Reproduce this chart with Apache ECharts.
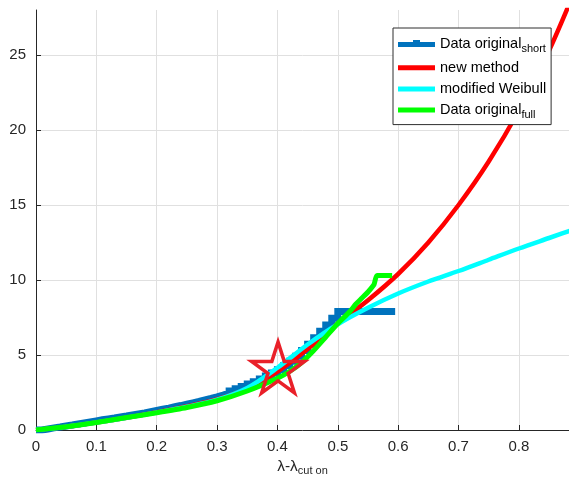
<!DOCTYPE html>
<html>
<head>
<meta charset="utf-8">
<script src="https://cdn.jsdelivr.net/npm/echarts@6/dist/echarts.min.js"></script>
<style>
html,body{margin:0;padding:0;background:#fff;}
#chart{width:569px;height:492px;}
</style>
</head>
<body>
<div id="chart"></div>
<script>
// ---- data ----
const seriesNames = ['Data original short', 'new method', 'modified Weibull', 'Data original full'];
const legendMain = ['Data original', 'new method', 'modified Weibull', 'Data original'];
const legendSub = ['short', '', '', 'full'];

// Data original (short) – staircase
const xShort = [0,0.01,0.02,0.03,0.04,0.05,0.06,0.07,0.08,0.09,0.10,0.11,0.12,0.13,0.14,0.15,0.16,0.17,0.18,0.19,0.20,0.21,0.22,0.23,0.24,0.25,0.26,0.27,0.28,0.29,0.30,0.31,0.32,0.33,0.34,0.35,0.36,0.37,0.38,0.39,0.40,0.41,0.42,0.43,0.44,0.45,0.46,0.47,0.48,0.49,0.50,0.595];
const yShort = [0,0.07,0.14,0.2,0.27,0.33,0.4,0.47,0.54,0.61,0.68,0.74,0.8,0.87,0.93,1.0,1.07,1.14,1.22,1.3,1.38,1.46,1.55,1.63,1.72,1.81,1.9,2.0,2.1,2.21,2.33,2.46,2.6,2.75,2.9,3.06,3.22,3.4,3.6,3.8,4.02,4.28,4.58,4.92,5.3,5.72,6.15,6.58,7.0,7.45,7.9,7.9];

// new method
const xNew = [0,0.05,0.1,0.15,0.2,0.25,0.3,0.35,0.4,0.45,0.5,0.55,0.6,0.65,0.7,0.75,0.8,0.85,0.9];
const yNew = [0,0.22,0.5,0.82,1.18,1.58,2.05,2.75,3.9,5.4,7.1,8.65,10.4,12.5,15.0,17.9,21.3,25.3,30.0];

// modified Weibull
const xWeib = [0,0.05,0.1,0.15,0.2,0.25,0.3,0.35,0.4,0.45,0.5,0.55,0.6,0.65,0.7,0.75,0.8,0.85,0.9];
const yWeib = [0,0.22,0.5,0.82,1.17,1.55,2.02,2.8,4.15,5.7,7.05,8.15,9.1,9.9,10.6,11.35,12.1,12.8,13.5];

// Data original (full)
const xFull = [0,0.05,0.1,0.15,0.2,0.25,0.3,0.35,0.4,0.42,0.44,0.46,0.48,0.5,0.52,0.53,0.54,0.55,0.56,0.565,0.59];
const yFull = [0,0.22,0.5,0.83,1.15,1.5,1.95,2.6,3.45,3.9,4.5,5.3,6.2,7.1,7.9,8.4,8.8,9.2,9.7,10.3,10.3];

// marked point (star)
const starPoint = [[0.401, 4.17]];

// axis ticks
const xTicks = [0,0.1,0.2,0.3,0.4,0.5,0.6,0.7,0.8];
const yTicks = [0,5,10,15,20,25];

const zip = (xs, ys) => xs.map((x, i) => [x, ys[i]]);
const FONT = '"Liberation Sans", Arial, sans-serif';
const AX = '#262626';

const starPath = 'path://M100 0 L122.45 69.1 L195.11 69.1 L136.33 111.8 L158.78 180.9 L100 138.2 L41.22 180.9 L63.67 111.8 L4.89 69.1 L77.55 69.1 Z';
const iconLine = 'path://M0 0 L37 0 L37 5 L0 5 Z';
const iconBlue = 'path://M0 2 L15 2 L15 0 L22 0 L22 2 L37 2 L37 7 L0 7 Z';

const chart = echarts.init(document.getElementById('chart'), null, {renderer: 'canvas'});
chart.setOption({
  animation: false,
  backgroundColor: '#ffffff',
  textStyle: {fontFamily: FONT},
  grid: {left: 36, right: 0, top: 10, bottom: 62, containLabel: false},
  xAxis: {
    type: 'value', min: 0, max: 0.883, interval: 0.1,
    name: '{a|λ-λ}{s|cut on}', nameLocation: 'middle', nameGap: 28,
    nameTextStyle: {
      rich: {
        a: {fontSize: 15.5, fontFamily: FONT, color: AX, lineHeight: 18, verticalAlign: 'middle'},
        s: {fontSize: 11, fontFamily: FONT, color: AX, lineHeight: 4, verticalAlign: 'bottom'}
      }
    },
    axisLine: {show: true, onZero: false, lineStyle: {color: AX, width: 1}},
    axisTick: {show: true, inside: true, length: 5, lineStyle: {color: AX}},
    axisLabel: {
      fontSize: 15, color: AX, margin: 9, fontFamily: FONT, showMaxLabel: false,
      formatter: v => (xTicks.some(t => Math.abs(t - v) < 1e-9) ? String(+v.toFixed(1)) : '')
    },
    splitLine: {show: true, showMaxLine: false, lineStyle: {color: '#e0e0e0', width: 1}}
  },
  yAxis: {
    type: 'value', min: 0, max: 28, interval: 5,
    axisLine: {show: true, onZero: false, lineStyle: {color: AX, width: 1}},
    axisTick: {show: true, inside: true, length: 5, lineStyle: {color: AX}},
    axisLabel: {
      fontSize: 15, color: AX, margin: 10, fontFamily: FONT, showMaxLabel: false,
      formatter: v => (yTicks.indexOf(v) >= 0 ? String(v) : '')
    },
    splitLine: {show: true, showMaxLine: false, lineStyle: {color: '#e0e0e0', width: 1}}
  },
  legend: {
    orient: 'vertical', left: 393, top: 28,
    backgroundColor: '#ffffff', borderColor: '#2e2e2e', borderWidth: 1,
    padding: [8, 5, 4, 5], itemGap: 6.2, itemWidth: 37, itemHeight: 7,
    selectedMode: false,
    itemStyle: {borderWidth: 0},
    data: [
      {name: seriesNames[0], icon: iconBlue},
      {name: seriesNames[1], icon: iconLine},
      {name: seriesNames[2], icon: iconLine},
      {name: seriesNames[3], icon: iconLine}
    ],
    formatter: function (name) {
      const i = seriesNames.indexOf(name);
      return '{a|' + legendMain[i] + '}' + (legendSub[i] ? '{s|' + legendSub[i] + '}' : '');
    },
    textStyle: {
      rich: {
        a: {fontSize: 14.5, fontFamily: FONT, color: '#000', lineHeight: 21, verticalAlign: 'middle'},
        s: {fontSize: 11, fontFamily: FONT, color: '#000', lineHeight: 4, verticalAlign: 'bottom'}
      }
    }
  },
  series: [
    {
      name: seriesNames[0], type: 'line', step: 'end', data: zip(xShort, yShort),
      showSymbol: false, symbol: 'none', color: '#0072BD',
      lineStyle: {color: '#0072BD', width: 7, join: 'miter'}, z: 2
    },
    {
      name: seriesNames[1], type: 'line', smooth: 0.3, data: zip(xNew, yNew),
      showSymbol: false, symbol: 'none', color: '#ff0000',
      lineStyle: {color: '#ff0000', width: 4.5}, z: 3
    },
    {
      name: seriesNames[2], type: 'line', smooth: 0.3, data: zip(xWeib, yWeib),
      showSymbol: false, symbol: 'none', color: '#00ffff',
      lineStyle: {color: '#00ffff', width: 4.5}, z: 4
    },
    {
      name: seriesNames[3], type: 'line', smooth: 0.2, data: zip(xFull, yFull),
      showSymbol: false, symbol: 'none', color: '#00ff00',
      lineStyle: {color: '#00ff00', width: 5}, z: 5
    },
    {
      name: 'star', type: 'scatter', data: starPoint, silent: true,
      symbol: starPath, symbolSize: [53, 51],
      itemStyle: {color: 'rgba(0,0,0,0)', borderColor: '#e92029', borderWidth: 3.5, opacity: 1},
      z: 10
    }
  ]
});
</script>
</body>
</html>
